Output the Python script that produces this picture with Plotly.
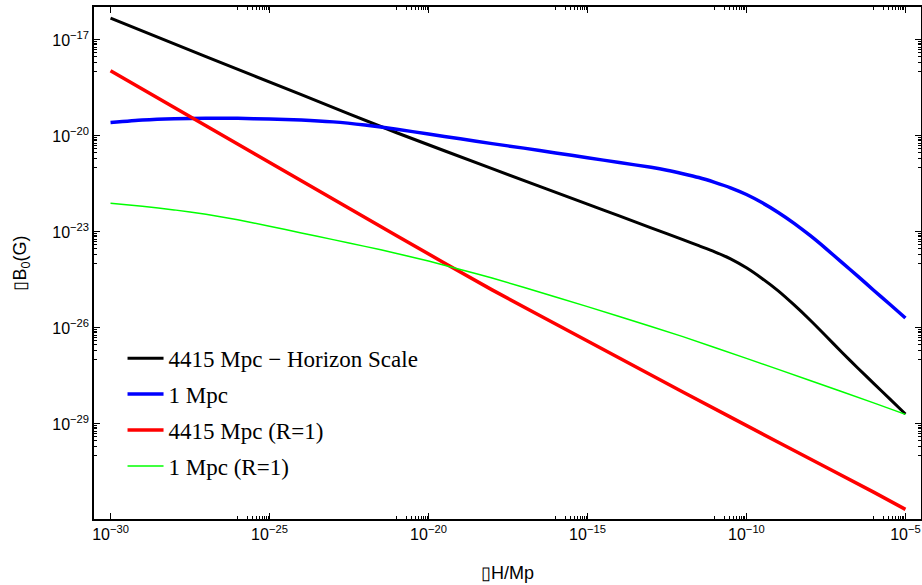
import plotly.graph_objects as go

# ---- data (log10 values) ----
black_x = [-30, -27, -24, -21, -18, -15, -14, -13, -12, -11.5, -11, -10.5, -10, -9.5, -9,
           -8.5, -8, -7.5, -7, -6.5, -6, -5.5, -5]
black_logB = [-16.32, -17.52, -18.71, -19.90, -21.02, -22.13, -22.50, -22.87, -23.24,
              -23.43, -23.62, -23.84, -24.12, -24.46, -24.84, -25.28, -25.75, -26.25,
              -26.76, -27.25, -27.73, -28.21, -28.69]

blue_x = [-30, -29, -28, -27, -26, -25, -24, -23, -22, -21, -20, -19, -18, -17, -16,
          -15, -14, -13, -12.5, -12, -11.5, -11, -10.5, -10, -9.5, -9, -8.5, -8, -7.5,
          -7, -6.5, -6, -5.5, -5]
blue_logB = [-19.58, -19.50, -19.46, -19.45, -19.45, -19.47, -19.50, -19.56, -19.66,
             -19.79, -19.94, -20.09, -20.24, -20.38, -20.53, -20.68, -20.83, -20.98,
             -21.07, -21.18, -21.30, -21.45, -21.62, -21.83, -22.09, -22.39, -22.73,
             -23.11, -23.52, -23.95, -24.38, -24.82, -25.25, -25.69]

red_x = [-30, -27, -24, -21, -18, -15, -12, -9, -6, -5]
red_logB = [-17.96, -19.68, -21.40, -23.12, -24.81, -26.41, -28.00, -29.57, -31.13, -31.67]

green_x = [-30, -29, -28, -27, -26, -25, -24, -23, -22, -21, -20, -19, -18, -16, -14,
           -12, -10, -8, -6, -5]
green_logB = [-22.10, -22.20, -22.31, -22.45, -22.62, -22.82, -23.03, -23.24, -23.45,
              -23.67, -23.91, -24.17, -24.44, -25.03, -25.64, -26.27, -26.95, -27.64,
              -28.34, -28.70]

series_names = ["4415 Mpc − Horizon Scale", "1 Mpc", "4415 Mpc (R=1)", "1 Mpc (R=1)"]
series_colors = ["#000000", "#0000ff", "#ff0000", "#00ff00"]
series_widths = [3, 3.5, 3.5, 1.5]

x_major = [-30, -25, -20, -15, -10, -5]
x_ticktext = ["10<sup>−30</sup>", "10<sup>−25</sup>", "10<sup>−20</sup>",
              "10<sup>−15</sup>", "10<sup>−10</sup>", "10<sup>−5</sup>"]
y_major = [-17, -20, -23, -26, -29]
y_ticktext = ["10<sup>−17</sup>", "10<sup>−20</sup>", "10<sup>−23</sup>",
              "10<sup>−26</sup>", "10<sup>−29</sup>"]

fig = go.Figure()
all_x = [black_x, blue_x, red_x, green_x]
all_y = [black_logB, blue_logB, red_logB, green_logB]
for i in range(4):
    fig.add_trace(go.Scatter(
        x=[10 ** v for v in all_x[i]],
        y=[10 ** v for v in all_y[i]],
        mode="lines",
        line=dict(color=series_colors[i], width=series_widths[i], shape="spline", smoothing=0.5),
        name=series_names[i],
        legendgroup="g%d" % i,
    ))

def minor_vals(majors):
    vals = []
    for m in majors:
        for k in range(1, 10):
            vals.append(k * 10.0 ** (m - 1))
    return vals

x_minor = minor_vals([m for m in x_major if m != -30])
y_minor = minor_vals(y_major)

axis_common = dict(
    type="log",
    showgrid=False,
    zeroline=False,
    showline=True,
    linecolor="black",
    linewidth=1.5,
    mirror="ticks",
    ticks="inside",
    ticklen=6,
    tickwidth=1,
    tickcolor="black",
    tickfont=dict(family="Liberation Sans, Arial, sans-serif", size=16, color="black"),
)

fig.update_xaxes(
    **axis_common,
    range=[-30.52, -4.51],
    tickmode="array",
    tickvals=[10.0 ** m for m in x_major],
    ticktext=x_ticktext,
    minor=dict(tickmode="array", tickvals=x_minor, ticks="inside", ticklen=3,
               tickcolor="black", tickwidth=1, showgrid=False),
    title=dict(text="▯H/Mp", font=dict(family="Liberation Sans, Arial, sans-serif",
                                       size=18, color="black"), standoff=24),
)
fig.update_yaxes(
    **axis_common,
    range=[-31.97, -15.97],
    tickmode="array",
    tickvals=[10.0 ** m for m in y_major],
    ticktext=y_ticktext,
    minor=dict(tickmode="array", tickvals=y_minor, ticks="inside", ticklen=3,
               tickcolor="black", tickwidth=1, showgrid=False),
    title=dict(text="▯B<sub>0</sub>(G)", font=dict(family="Liberation Sans, Arial, sans-serif",
                                                size=18, color="black"), standoff=21),
)

fig.update_layout(
    width=922,
    height=585,
    margin=dict(l=94, r=1, t=7, b=66, autoexpand=False),
    paper_bgcolor="white",
    plot_bgcolor="white",
    showlegend=True,
    legend=dict(
        x=0.0345, y=0.356, xanchor="left", yanchor="top",
        bgcolor="rgba(0,0,0,0)",
        font=dict(family="Liberation Serif, Times New Roman, serif", size=23, color="black"),
        tracegroupgap=3,
        itemwidth=36,
    ),
)

fig.write_html("out.html", config={"displayModeBar": False},
               post_script="document.body.style.margin='0px';")
